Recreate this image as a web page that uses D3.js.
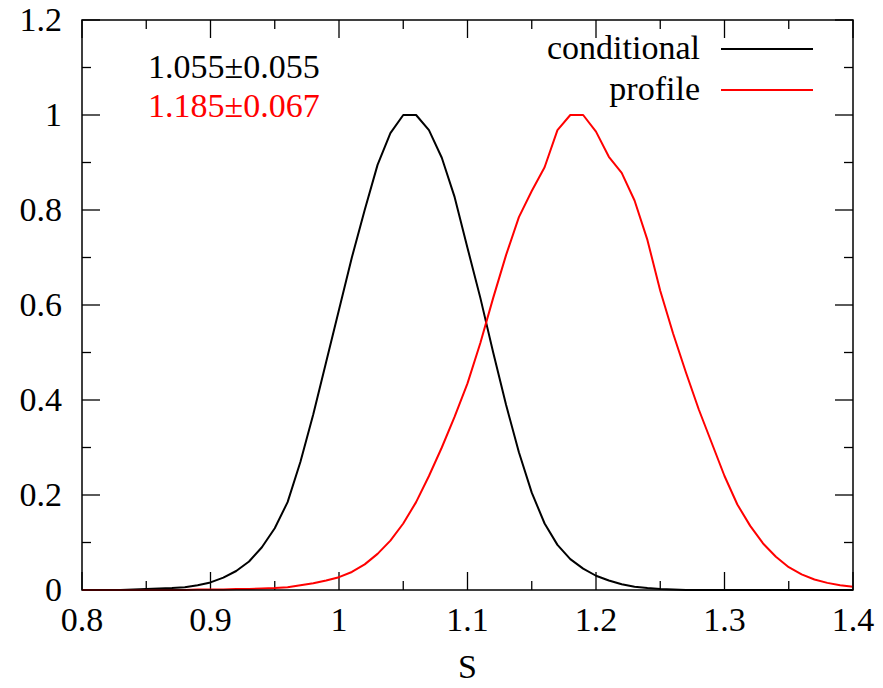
<!DOCTYPE html>
<html>
<head>
<meta charset="utf-8">
<script src="https://cdn.jsdelivr.net/npm/d3@7"></script>
<style>
  body { margin: 0; }
  svg, svg text { font-family: 'Liberation Serif', Tinos, 'Times New Roman', Times, serif !important; }
</style>
</head>
<body>
<script>
// s grid (step 0.01 from 0.80 to 1.40)
const sValues = d3.range(61).map((i) => +(0.8 + i * 0.01).toFixed(2));

const conditional = [
  0, 0, 0, 0, 0.001, 0.002, 0.003, 0.004, 0.006, 0.010,
  0.016, 0.026, 0.040, 0.060, 0.090, 0.13, 0.185, 0.27, 0.37, 0.48,
  0.59, 0.70, 0.80, 0.895, 0.962, 1.0, 1.0, 0.968, 0.91, 0.827,
  0.72, 0.615, 0.50, 0.39, 0.29, 0.205, 0.14, 0.095, 0.065, 0.045,
  0.03, 0.02, 0.012, 0.007, 0.004, 0.002, 0.001, 0, 0, 0,
  0, 0, 0, 0, 0, 0, 0, 0, 0, 0, 0
];

const profile = [
  0, 0, 0, 0, 0, 0, 0, 0, 0, 0.001,
  0.001, 0.001, 0.002, 0.002, 0.003, 0.004, 0.006, 0.010, 0.014, 0.020,
  0.027, 0.038, 0.054, 0.076, 0.104, 0.14, 0.185, 0.24, 0.30, 0.365,
  0.435, 0.52, 0.615, 0.705, 0.785, 0.84, 0.89, 0.968, 1.0, 1.0,
  0.965, 0.912, 0.878, 0.82, 0.737, 0.63, 0.54, 0.458, 0.38, 0.31,
  0.24, 0.18, 0.135, 0.098, 0.07, 0.048, 0.033, 0.022, 0.015, 0.010, 0.007
];

const xTicks = [0.8, 0.9, 1, 1.1, 1.2, 1.3, 1.4];
const yTicks = [0, 0.2, 0.4, 0.6, 0.8, 1, 1.2];
const seriesNames = ['conditional', 'profile'];
const seriesColors = ['#000000', '#ff0000'];
const annotations = ['1.055\u00b10.055', '1.185\u00b10.067'];

const W = 883, H = 688;
const margin = { top: 20, right: 30, bottom: 98, left: 82 };
const width = W - margin.left - margin.right;
const height = H - margin.top - margin.bottom;
const fontName = 'Liberation Serif';

const svg = d3.select('body').append('svg')
  .attr('width', W)
  .attr('height', H)
  .attr('font-family', fontName);

const g = svg.append('g')
  .attr('transform', `translate(${margin.left},${margin.top})`);

const x = d3.scaleLinear().domain([0.8, 1.4]).range([0, width]);
const y = d3.scaleLinear().domain([0, 1.2]).range([height, 0]);

const fontSize = 34;
const majorLen = 18, minorLen = 9;
const xMinor = d3.range(13).map((i) => 0.8 + i * 0.05);
const yMinor = d3.range(13).map((i) => i * 0.1);

// ticks (inward, mirrored on all four sides)
const tickG = g.append('g').attr('stroke', '#000').attr('stroke-width', 1.3);
xMinor.forEach((v, i) => {
  const len = i % 2 === 0 ? majorLen : minorLen;
  tickG.append('line').attr('x1', x(v)).attr('x2', x(v)).attr('y1', height).attr('y2', height - len);
  tickG.append('line').attr('x1', x(v)).attr('x2', x(v)).attr('y1', 0).attr('y2', len);
});
yMinor.forEach((v, i) => {
  const len = i % 2 === 0 ? majorLen : minorLen;
  tickG.append('line').attr('y1', y(v)).attr('y2', y(v)).attr('x1', 0).attr('x2', len);
  tickG.append('line').attr('y1', y(v)).attr('y2', y(v)).attr('x1', width).attr('x2', width - len);
});

// tick labels
g.selectAll('.xlab').data(xTicks).enter().append('text')
  .attr('x', (d) => x(d))
  .attr('y', height + 41)
  .attr('text-anchor', 'middle')
  .attr('font-family', fontName)
  .style('font-size', fontSize + 'px')
  .text((d) => String(d));

g.selectAll('.ylab').data(yTicks).enter().append('text')
  .attr('x', -20)
  .attr('y', (d) => y(d) + 11)
  .attr('text-anchor', 'end')
  .attr('font-family', fontName)
  .style('font-size', fontSize + 'px')
  .text((d) => String(d));

// x axis title
g.append('text')
  .attr('x', x(1.1))
  .attr('y', height + 88)
  .attr('text-anchor', 'middle')
  .attr('font-family', fontName)
  .style('font-size', fontSize + 'px')
  .text('S');

// curves
const line = d3.line()
  .x((d, i) => x(sValues[i]))
  .y((d) => y(d));

[conditional, profile].forEach((vals, k) => {
  g.append('path')
    .datum(vals)
    .attr('d', line)
    .attr('fill', 'none')
    .attr('stroke', seriesColors[k])
    .attr('stroke-width', 2)
    .attr('stroke-linejoin', 'round');
});

// frame
g.append('rect')
  .attr('width', width).attr('height', height)
  .attr('fill', 'none')
  .attr('stroke', '#000')
  .attr('stroke-width', 1.5);

// legend
const legendY = [29, 70];
seriesNames.forEach((name, i) => {
  g.append('text')
    .attr('x', 618)
    .attr('y', legendY[i] + 10)
    .attr('text-anchor', 'end')
    .attr('font-family', fontName)
    .style('font-size', fontSize + 'px')
    .text(name);
  g.append('line')
    .attr('x1', 639).attr('x2', 731)
    .attr('y1', legendY[i]).attr('y2', legendY[i])
    .attr('stroke', seriesColors[i])
    .attr('stroke-width', 2);
});

// fitted values
annotations.forEach((txt, i) => {
  g.append('text')
    .attr('x', 66)
    .attr('y', 58 + i * 39)
    .attr('fill', seriesColors[i])
    .attr('font-family', fontName)
    .style('font-size', fontSize + 'px')
    .text(txt);
});
</script>
</body>
</html>
